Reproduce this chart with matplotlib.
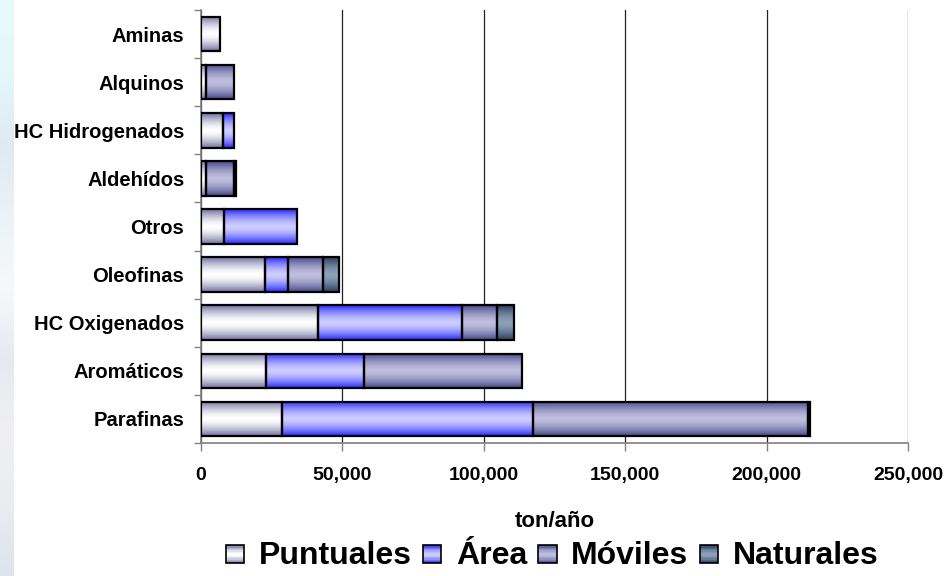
import numpy as np
import matplotlib
matplotlib.use('Agg')
import matplotlib.pyplot as plt
from matplotlib.patches import Rectangle
from matplotlib.legend_handler import HandlerBase
from matplotlib.ticker import FuncFormatter, FixedLocator

plt.rcParams['font.family'] = ['Liberation Sans', 'DejaVu Sans']
plt.rcParams['font.weight'] = 'bold'

# emissions by compound family and source (ton/año)
categories = ['Aminas', 'Alquinos', 'HC Hidrogenados', 'Aldehídos', 'Otros',
              'Oleofinas', 'HC Oxigenados', 'Aromáticos', 'Parafinas']
puntuales = [6700, 1800, 7900, 1800, 8100, 22500, 41400, 23100, 28750]
area = [0, 0, 3900, 0, 25700, 8100, 51000, 34500, 88600]
moviles = [0, 9700, 0, 9900, 0, 12500, 12300, 56000, 97300]
naturales = [0, 0, 0, 700, 0, 5800, 5900, 0, 600]

series_names = ['Puntuales', 'Área', 'Móviles', 'Naturales']
series_vals = [puntuales, area, moviles, naturales]
# (edge colour, centre colour) for each gradient fill
series_grad = [((112, 112, 160), (255, 255, 255)),
               ((40, 40, 255), (205, 205, 255)),
               ((70, 70, 140), (190, 190, 222)),
               ((40, 60, 92), (140, 160, 185))]
xticks = [0, 50000, 100000, 150000, 200000, 250000]


def gradient(edge, center, n=64):
    t = np.abs(np.linspace(-1, 1, n)) ** 1.6
    e = np.array(edge) / 255.0
    c = np.array(center) / 255.0
    cols = c[None, :] + (e - c)[None, :] * t[:, None]
    return cols[:, None, :]


class GradHandler(HandlerBase):
    def __init__(self, edge, center):
        super().__init__()
        self.edge = edge
        self.center = center

    def create_artists(self, legend, orig_handle, xdescent, ydescent,
                       width, height, fontsize, trans):
        side = width
        y0 = -ydescent + (height - side) / 2.0 - 1
        x0 = -xdescent
        cols = gradient(self.edge, self.center, 14)[:, 0, :]
        arts = []
        n = len(cols)
        for i, col in enumerate(cols):
            r = Rectangle((x0, y0 + side * (n - 1 - i) / n), side, side / n,
                          facecolor=col, edgecolor='none', transform=trans)
            arts.append(r)
        arts.append(Rectangle((x0, y0), side, side, facecolor='none',
                              edgecolor='black', linewidth=1.2, transform=trans))
        return arts


fig = plt.figure(figsize=(9.53, 5.76), dpi=100)

# faded strip at the left edge
strip = fig.add_axes([0, 0, 14 / 953, 1])
stops = np.array([(230, 250, 250), (228, 248, 250), (224, 234, 242),
                  (236, 242, 246), (246, 249, 250), (230, 234, 240),
                  (240, 240, 242), (234, 236, 240), (222, 228, 236)]) / 255.0
ys = np.linspace(0, 1, len(stops))
yy = np.linspace(0, 1, 200)
col = np.stack([np.interp(yy, ys, stops[:, k]) for k in range(3)], axis=1)
strip.imshow(col[:, None, :], aspect='auto', interpolation='bicubic')
strip.axis('off')

ax = fig.add_axes([201 / 953, 1 - 443 / 576, 707 / 953, 433 / 576])
y = np.arange(len(categories))
left = np.zeros(len(categories))
for name, vals, (edge, center) in zip(series_names, series_vals, series_grad):
    vals = np.array(vals, dtype=float)
    bars = ax.barh(y, vals, left=left, height=0.72, color='none',
                   edgecolor='black', linewidth=1.6, zorder=3)
    grad = gradient(edge, center)
    for patch, v in zip(bars, vals):
        if v <= 0:
            patch.set_visible(False)
            continue
        x0, y0 = patch.get_xy()
        im = ax.imshow(grad, extent=(x0, x0 + patch.get_width(), y0 + patch.get_height(), y0),
                       aspect='auto', interpolation='bilinear', zorder=2)
        im.set_clip_path(patch)
    left += vals

ax.set_xlim(0, 250000)
ax.set_ylim(len(categories) - 0.5, -0.5)

ax.xaxis.set_major_locator(FixedLocator(xticks))
ax.xaxis.set_major_formatter(FuncFormatter(lambda v, p: f'{int(v):,}'))
ax.grid(axis='x', color='#222222', linewidth=0.9, zorder=0)
ax.set_axisbelow(True)

ax.yaxis.set_major_locator(FixedLocator(np.arange(-0.5, len(categories), 1.0)))
ax.yaxis.set_major_formatter(FuncFormatter(lambda v, p: ''))
ax.yaxis.set_minor_locator(FixedLocator(y))
ax.set_yticks(y, categories, minor=True)
ax.tick_params(axis='y', which='major', length=5, color='#808080', width=1)
ax.tick_params(axis='y', which='minor', length=0, pad=12, labelsize=14.5)
ax.tick_params(axis='x', length=6, color='#808080', width=1, pad=11, labelsize=14)

for s in ['top', 'right']:
    ax.spines[s].set_visible(False)
for s in ['left', 'bottom']:
    ax.spines[s].set_color('#808080')
    ax.spines[s].set_linewidth(1.2)

ax.set_xlabel('ton/año', fontsize=16, fontweight='bold', labelpad=20)

handles = [Rectangle((0, 0), 1, 1) for _ in series_names]
hmap = {h: GradHandler(e, c) for h, (e, c) in zip(handles, series_grad)}
fig.legend(handles, series_names, handler_map=hmap, loc='center',
           bbox_to_anchor=(552 / 953, 1 - 556 / 576), ncol=4, frameon=False,
           prop={'size': 23, 'weight': 'bold'}, handlelength=0.58,
           handleheight=0.7, handletextpad=0.45, columnspacing=0.35,
           borderpad=0, borderaxespad=0)

fig.savefig('out.png', dpi=100)
